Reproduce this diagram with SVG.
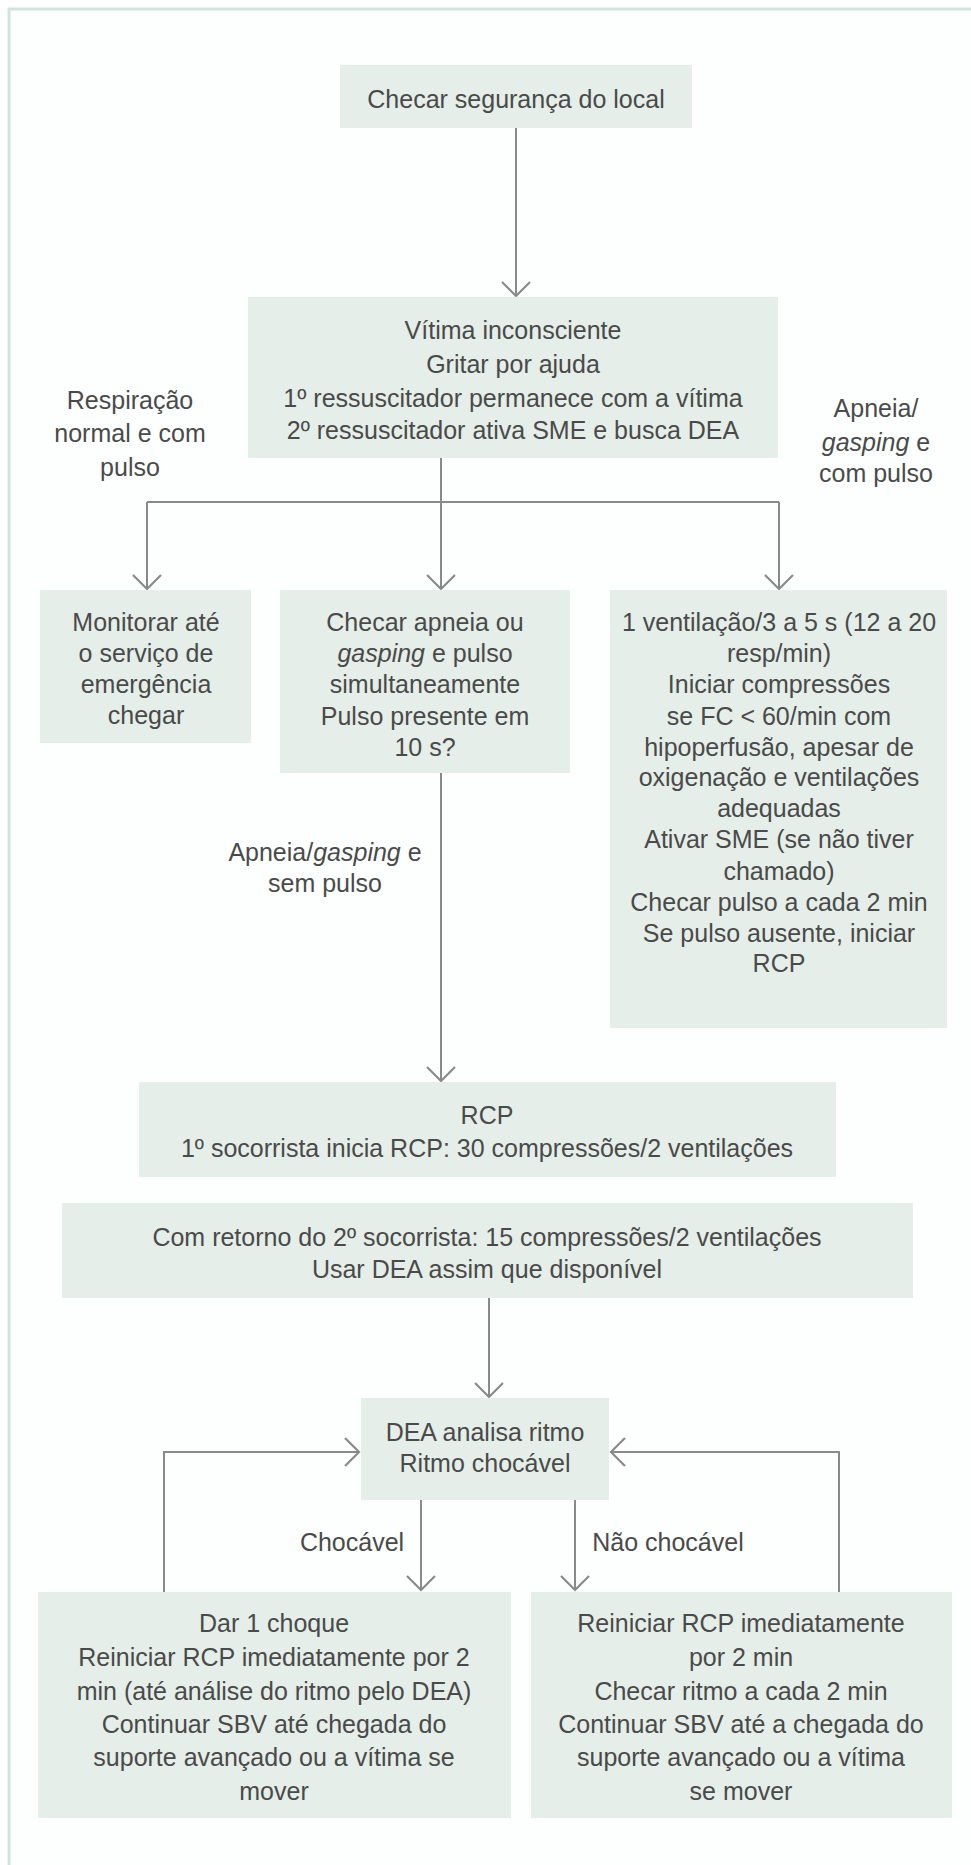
<svg xmlns="http://www.w3.org/2000/svg" width="971" height="1865" viewBox="0 0 971 1865">
  <style>
    .box { fill: #e5eee8; }
    .t { font-family: "Liberation Sans", Arial, sans-serif; font-size: 25px; fill: #4a4a4a; text-anchor: middle; }
    .i { font-style: italic; }
    .ln { fill: none; stroke: #8a8a8a; stroke-width: 2; }
  </style>
  <defs>
    <marker id="arrow" markerUnits="userSpaceOnUse" markerWidth="20" markerHeight="32" refX="16" refY="16" orient="auto" overflow="visible">
      <path d="M2,2 L16,16 L2,30" fill="none" stroke="#8a8a8a" stroke-width="2.2"/>
    </marker>
  </defs>

  <rect width="971" height="1865" fill="#ffffff"/>
  <!-- outer frame, open to the right and bottom -->
  <rect x="9" y="9" width="1000" height="1900" fill="#fdfffe" stroke="#cfe5dc" stroke-width="3"/>

  <!-- connectors -->
  <g id="connectors" class="ln">
    <line x1="516" y1="128" x2="516" y2="296" marker-end="url(#arrow)"/>
    <line x1="441" y1="458" x2="441" y2="589" marker-end="url(#arrow)"/>
    <polyline points="147,502 779,502"/>
    <line x1="147" y1="502" x2="147" y2="589" marker-end="url(#arrow)"/>
    <line x1="779" y1="502" x2="779" y2="589" marker-end="url(#arrow)"/>
    <line x1="441" y1="773" x2="441" y2="1081" marker-end="url(#arrow)"/>
    <line x1="489" y1="1298" x2="489" y2="1397" marker-end="url(#arrow)"/>
    <line x1="421" y1="1500" x2="421" y2="1590" marker-end="url(#arrow)"/>
    <line x1="575" y1="1500" x2="575" y2="1590" marker-end="url(#arrow)"/>
    <polyline points="164,1592 164,1452 359,1452" marker-end="url(#arrow)"/>
    <polyline points="839,1592 839,1452 611,1452" marker-end="url(#arrow)"/>
  </g>

  <!-- branch labels -->
  <g id="labels">
    <text class="t" x="130" y="409">Respiração</text>
    <text class="t" x="130" y="442">normal e com</text>
    <text class="t" x="130" y="476">pulso</text>
    <text class="t" x="876" y="417">Apneia/</text>
    <text class="t" x="876" y="451"><tspan class="i">gasping</tspan> e</text>
    <text class="t" x="876" y="482">com pulso</text>
    <text class="t" x="325" y="861">Apneia/<tspan class="i">gasping</tspan> e</text>
    <text class="t" x="325" y="892">sem pulso</text>
    <text class="t" x="352" y="1551">Chocável</text>
    <text class="t" x="668" y="1551">Não chocável</text>
  </g>

  <g id="n-seguranca">
    <rect class="box" x="340" y="65" width="352" height="63"/>
    <text class="t" x="516" y="108">Checar segurança do local</text>
  </g>

  <g id="n-vitima">
    <rect class="box" x="248" y="297" width="530" height="161"/>
    <text class="t" x="513" y="339">Vítima inconsciente</text>
    <text class="t" x="513" y="373">Gritar por ajuda</text>
    <text class="t" x="513" y="407">1º ressuscitador permanece com a vítima</text>
    <text class="t" x="513" y="439">2º ressuscitador ativa SME e busca DEA</text>
  </g>

  <g id="n-monitorar">
    <rect class="box" x="40" y="590" width="211" height="153"/>
    <text class="t" x="146" y="631">Monitorar até</text>
    <text class="t" x="146" y="662">o serviço de</text>
    <text class="t" x="146" y="693">emergência</text>
    <text class="t" x="146" y="724">chegar</text>
  </g>

  <g id="n-checar-apneia">
    <rect class="box" x="280" y="590" width="290" height="183"/>
    <text class="t" x="425" y="631">Checar apneia ou</text>
    <text class="t" x="425" y="662"><tspan class="i">gasping</tspan> e pulso</text>
    <text class="t" x="425" y="693">simultaneamente</text>
    <text class="t" x="425" y="725">Pulso presente em</text>
    <text class="t" x="425" y="756">10 s?</text>
  </g>

  <g id="n-ventilacao">
    <rect class="box" x="610" y="590" width="337" height="438"/>
    <text class="t" x="779" y="631">1 ventilação/3 a 5 s (12 a 20</text>
    <text class="t" x="779" y="662">resp/min)</text>
    <text class="t" x="779" y="693">Iniciar compressões</text>
    <text class="t" x="779" y="725">se FC &lt; 60/min com</text>
    <text class="t" x="779" y="756">hipoperfusão, apesar de</text>
    <text class="t" x="779" y="786">oxigenação e ventilações</text>
    <text class="t" x="779" y="817">adequadas</text>
    <text class="t" x="779" y="848">Ativar SME (se não tiver</text>
    <text class="t" x="779" y="880">chamado)</text>
    <text class="t" x="779" y="911">Checar pulso a cada 2 min</text>
    <text class="t" x="779" y="942">Se pulso ausente, iniciar</text>
    <text class="t" x="779" y="972">RCP</text>
  </g>

  <g id="n-rcp">
    <rect class="box" x="139" y="1082" width="697" height="95"/>
    <text class="t" x="487" y="1124">RCP</text>
    <text class="t" x="487" y="1157">1º socorrista inicia RCP: 30 compressões/2 ventilações</text>
  </g>

  <g id="n-retorno">
    <rect class="box" x="62" y="1203" width="851" height="95"/>
    <text class="t" x="487" y="1246">Com retorno do 2º socorrista: 15 compressões/2 ventilações</text>
    <text class="t" x="487" y="1278">Usar DEA assim que disponível</text>
  </g>

  <g id="n-dea">
    <rect class="box" x="361" y="1398" width="248" height="102"/>
    <text class="t" x="485" y="1441">DEA analisa ritmo</text>
    <text class="t" x="485" y="1472">Ritmo chocável</text>
  </g>

  <g id="n-choque">
    <rect class="box" x="38" y="1592" width="473" height="226"/>
    <text class="t" x="274" y="1632">Dar 1 choque</text>
    <text class="t" x="274" y="1666">Reiniciar RCP imediatamente por 2</text>
    <text class="t" x="274" y="1700">min (até análise do ritmo pelo DEA)</text>
    <text class="t" x="274" y="1733">Continuar SBV até chegada do</text>
    <text class="t" x="274" y="1766">suporte avançado ou a vítima se</text>
    <text class="t" x="274" y="1800">mover</text>
  </g>

  <g id="n-nao-chocavel">
    <rect class="box" x="531" y="1592" width="421" height="226"/>
    <text class="t" x="741" y="1632">Reiniciar RCP imediatamente</text>
    <text class="t" x="741" y="1666">por 2 min</text>
    <text class="t" x="741" y="1700">Checar ritmo a cada 2 min</text>
    <text class="t" x="741" y="1733">Continuar SBV até a chegada do</text>
    <text class="t" x="741" y="1766">suporte avançado ou a vítima</text>
    <text class="t" x="741" y="1800">se mover</text>
  </g>
</svg>
